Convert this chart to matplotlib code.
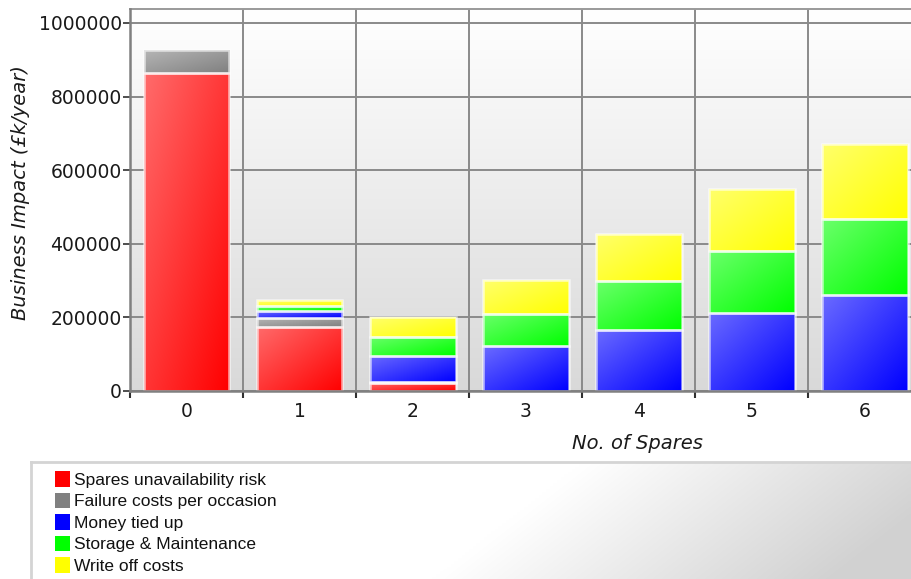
import numpy as np
import matplotlib
matplotlib.use("Agg")
import matplotlib.pyplot as plt
from matplotlib.patches import Rectangle, Patch
from matplotlib.colors import to_rgb

# Number of spares held and the yearly business impact of each cost component
spares = [0, 1, 2, 3, 4, 5, 6]
unavailability_risk = [864000, 174000, 22000, 0, 0, 0, 0]
failure_costs = [62000, 24000, 2000, 0, 0, 0, 0]
money_tied_up = [0, 19000, 71000, 122000, 166000, 212000, 261000]
storage_maintenance = [0, 14000, 52000, 87000, 133000, 168000, 206000]
write_off_costs = [0, 16000, 54000, 92000, 128000, 168000, 204000]

series_names = ["Spares unavailability risk", "Failure costs per occasion",
                "Money tied up", "Storage & Maintenance", "Write off costs"]
series_values = [unavailability_risk, failure_costs, money_tied_up,
                 storage_maintenance, write_off_costs]
series_colors = ["#ff0000", "#808080", "#0000ff", "#00ff00", "#ffff00"]
y_ticks = [0, 200000, 400000, 600000, 800000, 1000000]

plt.rcParams["font.family"] = ["DejaVu Sans"]

W, H = 911, 579
XLIM = (-0.5, 6.41)
YLIM = (0, 1038000)

fig = plt.figure(figsize=(W / 100, H / 100), dpi=100)
fig.patch.set_facecolor("white")

ax = fig.add_axes([130 / W, (H - 391) / H, (W - 130) / W, (391 - 9) / H])

# Plot area background: white at top fading to light grey at the bottom
bg = np.linspace(0.85, 1.0, 256).reshape(-1, 1)
bg_rgb = np.dstack([bg, bg, bg])
ax.imshow(bg_rgb, extent=(0, 1, 0, 1), transform=ax.transAxes, origin="lower",
          aspect="auto", zorder=0, interpolation="bilinear")


def gradient_for(color, nx=64, ny=64, strength=0.42):
    base = np.array(to_rgb(color))
    u = np.linspace(0, 1, nx)[None, :]
    v = np.linspace(0, 1, ny)[:, None]
    light = ((1 - u) + v) / 2.0  # lightest at the top-left corner
    mix = strength * light
    img = base[None, None, :] * (1 - mix[..., None]) + mix[..., None]
    return np.clip(img, 0, 1)


width = 0.76
bottoms = np.zeros(len(spares))
for vals, col in zip(series_values, series_colors):
    vals = np.array(vals, dtype=float)
    bars = ax.bar(spares, vals, width=width, bottom=bottoms, color="none",
                  edgecolor="none", zorder=3)
    grad = gradient_for(col)
    for rect, v in zip(bars.patches, vals):
        if v <= 0:
            continue
        x0, y0 = rect.get_x(), rect.get_y()
        x1, y1 = x0 + rect.get_width(), y0 + rect.get_height()
        im = ax.imshow(grad, extent=(x0, x1, y0, y1), origin="lower",
                       aspect="auto", interpolation="bilinear", zorder=3)
        im.set_clip_path(rect)
        ax.add_patch(Rectangle((x0, y0), x1 - x0, y1 - y0, facecolor="none",
                               edgecolor=(1, 1, 1, 0.65), linewidth=1.8,
                               zorder=4))
    bottoms += vals

# Grid lines between categories and at each y tick
grid_col = "#8a8a8a"
for b in np.arange(-0.5, 7.0, 1.0):
    ax.axvline(b, color=grid_col, lw=1.4, zorder=1)
for t in y_ticks:
    ax.axhline(t, color=grid_col, lw=1.4, zorder=1)

ax.spines["right"].set_visible(False)
ax.spines["top"].set_color("#9a9a9a")
ax.spines["top"].set_linewidth(1.4)
for side in ["left", "bottom"]:
    ax.spines[side].set_color("#808080")
    ax.spines[side].set_linewidth(1.8)
    ax.spines[side].set_zorder(5)

ax.set_yticks(y_ticks)
ax.set_yticklabels([str(t) for t in y_ticks])
ax.tick_params(axis="y", direction="out", length=5, width=1.2, color="#303030",
               labelsize=13.5, labelcolor="#1a1a1a", pad=1)

ax.set_xticks(np.arange(-0.5, 6.0, 1.0))
ax.set_xticklabels([])
ax.tick_params(axis="x", which="major", direction="out", length=5, width=1.5,
               color="#303030")
ax.set_xticks(spares, minor=True)
ax.set_xticklabels([str(s) for s in spares], minor=True)
ax.tick_params(axis="x", which="minor", length=0, labelsize=13.5,
               labelcolor="#1a1a1a", pad=8)

ax.set_xlim(*XLIM)
ax.set_ylim(*YLIM)

ax.set_ylabel("Business Impact (£k/year)", fontsize=14, style="italic",
              color="#1a1a1a")
ax.yaxis.set_label_coords(-0.128, 0.52)
ax.set_xlabel("No. of Spares", fontsize=14, style="italic", color="#1a1a1a")
ax.xaxis.set_label_coords(0.65, -0.112)

# Legend panel below the chart with a soft diagonal grey gradient
lx0, ly0 = 31, 462
lax = fig.add_axes([lx0 / W, 0, (W - lx0) / W, (H - ly0) / H])
gu = np.linspace(0, 1, 240)[None, :]
gv = np.linspace(0, 1, 80)[:, None]
gt = np.clip((gu - 0.46 - 0.17 * gv) * 2.2, 0, 1)
shade = 1.0 - 0.18 * gt
lax.imshow(np.dstack([shade, shade, shade]), extent=(0, 1, 0, 1),
           origin="lower", aspect="auto", interpolation="bilinear")
lax.set_xlim(0, 1)
lax.set_ylim(0, 1)
lax.set_xticks([])
lax.set_yticks([])
for s in lax.spines.values():
    s.set_color("#d4d4d4")
    s.set_linewidth(2)
lax.spines["right"].set_visible(False)
lax.spines["bottom"].set_visible(False)

handles = [Patch(facecolor=c, edgecolor="none") for c in series_colors]
leg = lax.legend(handles, series_names, loc="upper left",
                 bbox_to_anchor=(0.027, 0.92), frameon=False,
                 prop={"family": "Liberation Sans", "size": 12.5},
                 handlelength=0.85, handleheight=1.0, handletextpad=0.28,
                 labelspacing=0.27, borderaxespad=0, borderpad=0)
for t in leg.get_texts():
    t.set_color("#111111")

fig.savefig("out.png", dpi=100)
